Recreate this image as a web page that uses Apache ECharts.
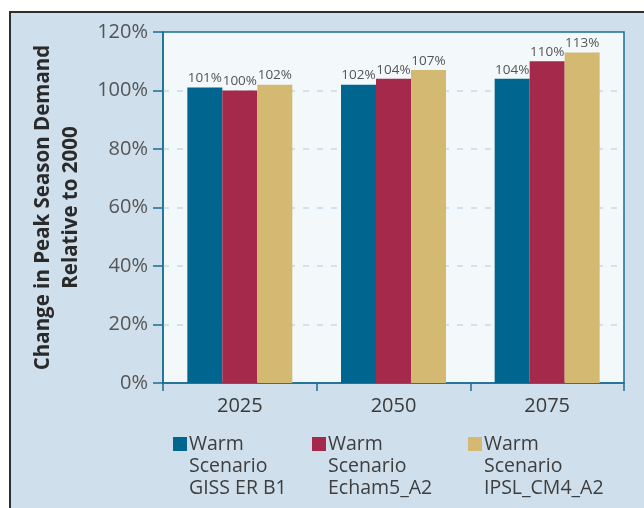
<!DOCTYPE html>
<html>
<head>
<meta charset="utf-8">
<script src="https://cdn.jsdelivr.net/npm/echarts@6/dist/echarts.min.js"></script>
<style>
  html, body { margin: 0; padding: 0; background: #fff; }
  #chart { width: 644px; height: 508px; }
</style>
</head>
<body>
<div id="chart"></div>
<script>
const years = ['2025', '2050', '2075']
const giss = [101, 100, 102]
const echam = [102, 104, 107]
const ipsl = [104, 110, 113]
const seriesNames = ['GISS ER B1', 'Echam5_A2', 'IPSL_CM4_A2']
const colors = ['#00658f', '#a4294b', '#d3b972']
const yTicks = [0, 20, 40, 60, 80, 100, 120]

// one array per scenario (series), indexed by year
const values = [
  [giss[0], echam[0], ipsl[0]],
  [giss[1], echam[1], ipsl[1]],
  [giss[2], echam[2], ipsl[2]],
]

const font = '"Open Sans", sans-serif'

const chart = echarts.init(document.getElementById('chart'))

// one legend per scenario so each sits where the original puts it
const legends = seriesNames.map((name, i) => ({
  left: [168, 307, 463][i],
  top: 434,
  padding: 0,
  data: [name],
  icon: 'none',
  itemWidth: 0,
  itemHeight: 0,
  selectedMode: false,
  formatter: n =>
    '{sq|}{t|Warm}\n{sp|}{t|Scenario}\n{sp|}{t|' + n + '}',
  textStyle: {
    fontFamily: font,
    rich: {
      sq: { width: 14, height: 14, backgroundColor: colors[i], align: 'left' },
      sp: { width: 14, height: 14 },
      t: { fontSize: 19.5, color: '#3e3e3e', lineHeight: 22, padding: [0, 0, 0, 2], fontFamily: font },
    },
  },
}))

chart.setOption({
  backgroundColor: '#fff',
  animation: false,
  graphic: [
    {
      type: 'rect',
      z: -10,
      silent: true,
      shape: { x: 10, y: 12, width: 700, height: 600 },
      style: { fill: '#cfdfeb', stroke: '#2f2f2f', lineWidth: 2 },
    },
  ],
  grid: {
    left: 163,
    right: 20,
    top: 32,
    bottom: 125,
    show: true,
    backgroundColor: '#f3f8fb',
    borderColor: '#1c6e94',
    borderWidth: 1.5,
  },
  legend: legends,
  xAxis: {
    type: 'category',
    data: years,
    axisLine: { lineStyle: { color: '#1c6e94', width: 1.5 } },
    axisTick: { show: true, length: 8, lineStyle: { color: '#1c6e94', width: 1.5 } },
    axisLabel: { color: '#3a3a3a', fontSize: 20, fontFamily: font, margin: 13 },
  },
  yAxis: {
    type: 'value',
    min: 0,
    max: 120,
    interval: 20,
    name: 'Change in Peak Season Demand\nRelative to 2000',
    nameLocation: 'middle',
    nameRotate: 90,
    nameGap: 78,
    nameTextStyle: {
      fontFamily: font,
      fontWeight: 'bold',
      fontSize: 20.5,
      lineHeight: 28,
      color: '#2a2a2a',
    },
    axisLine: { show: true, lineStyle: { color: '#1c6e94', width: 1.5 } },
    axisTick: { show: true, length: 10, lineStyle: { color: '#1c6e94', width: 1.5 } },
    axisLabel: {
      color: '#555',
      fontSize: 20,
      fontFamily: font,
      margin: 15,
      formatter: v => (yTicks.includes(v) ? v + '%' : ''),
    },
    splitLine: {
      show: true,
      showMinLine: false,
      showMaxLine: false,
      lineStyle: { color: '#c7dae8', type: [6, 8], width: 1.5 },
    },
  },
  series: seriesNames.map((name, i) => ({
    name,
    type: 'bar',
    data: values[i],
    barWidth: 35,
    barGap: '0%',
    itemStyle: { color: colors[i] },
    label: {
      show: true,
      position: 'top',
      distance: 2,
      formatter: '{c}%',
      color: '#555',
      fontSize: 13.5,
      fontFamily: font,
    },
  })),
})
</script>
</body>
</html>
